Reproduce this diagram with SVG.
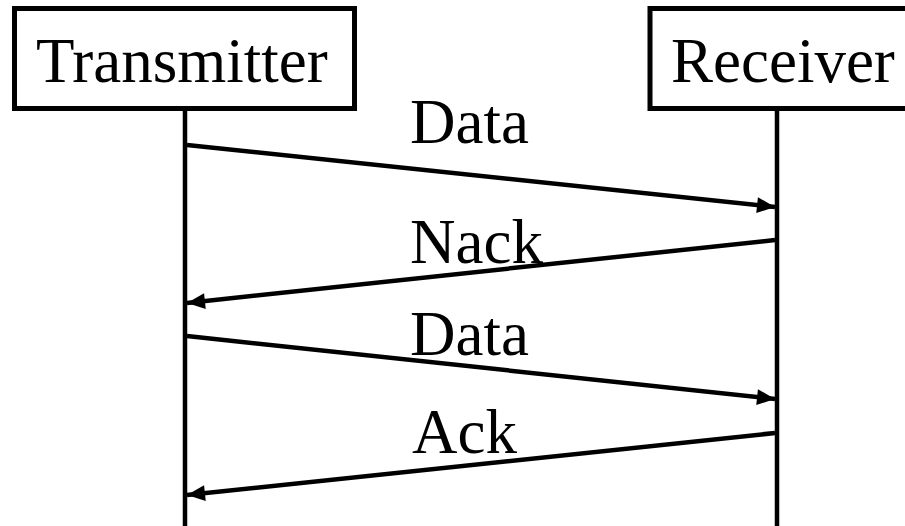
<svg xmlns="http://www.w3.org/2000/svg" width="905" height="526" viewBox="0 0 905 526">
<style>
.box{fill:#fff;stroke:#000;stroke-width:5}
.life{stroke:#000;stroke-width:4.5;fill:none}
.msg{stroke:#000;stroke-width:4.5;fill:none;marker-end:url(#ah)}
text{font-family:"Liberation Serif","Times New Roman",serif;font-size:63px;fill:#000}
</style>
<defs>
<marker id="ah" markerUnits="userSpaceOnUse" markerWidth="22" markerHeight="18" refX="18" refY="8" orient="auto" overflow="visible">
<path d="M0,0 L18,8 L0,16 Z" fill="#000"/>
</marker>
</defs>
<g id="transmitter">
<rect class="box" x="14.5" y="8.5" width="340" height="100"/>
<text x="36" y="82">Transmitter</text>
</g>
<g id="receiver">
<rect class="box" x="650" y="8.5" width="280" height="100"/>
<text x="671" y="82">Receiver</text>
</g>
<g id="connectors">
<line class="life" x1="185" y1="110" x2="185" y2="526"/>
<line class="life" x1="777" y1="110" x2="777" y2="526"/>
<line class="msg" x1="187" y1="145" x2="775" y2="207"/>
<line class="msg" x1="775" y1="240" x2="187" y2="303"/>
<line class="msg" x1="187" y1="336" x2="775" y2="399"/>
<line class="msg" x1="775" y1="433" x2="187" y2="495"/>
</g>
<g id="labels">
<text x="410" y="143">Data</text>
<text x="410" y="263">Nack</text>
<text x="410" y="355">Data</text>
<text x="412" y="453">Ack</text>
</g>
</svg>
